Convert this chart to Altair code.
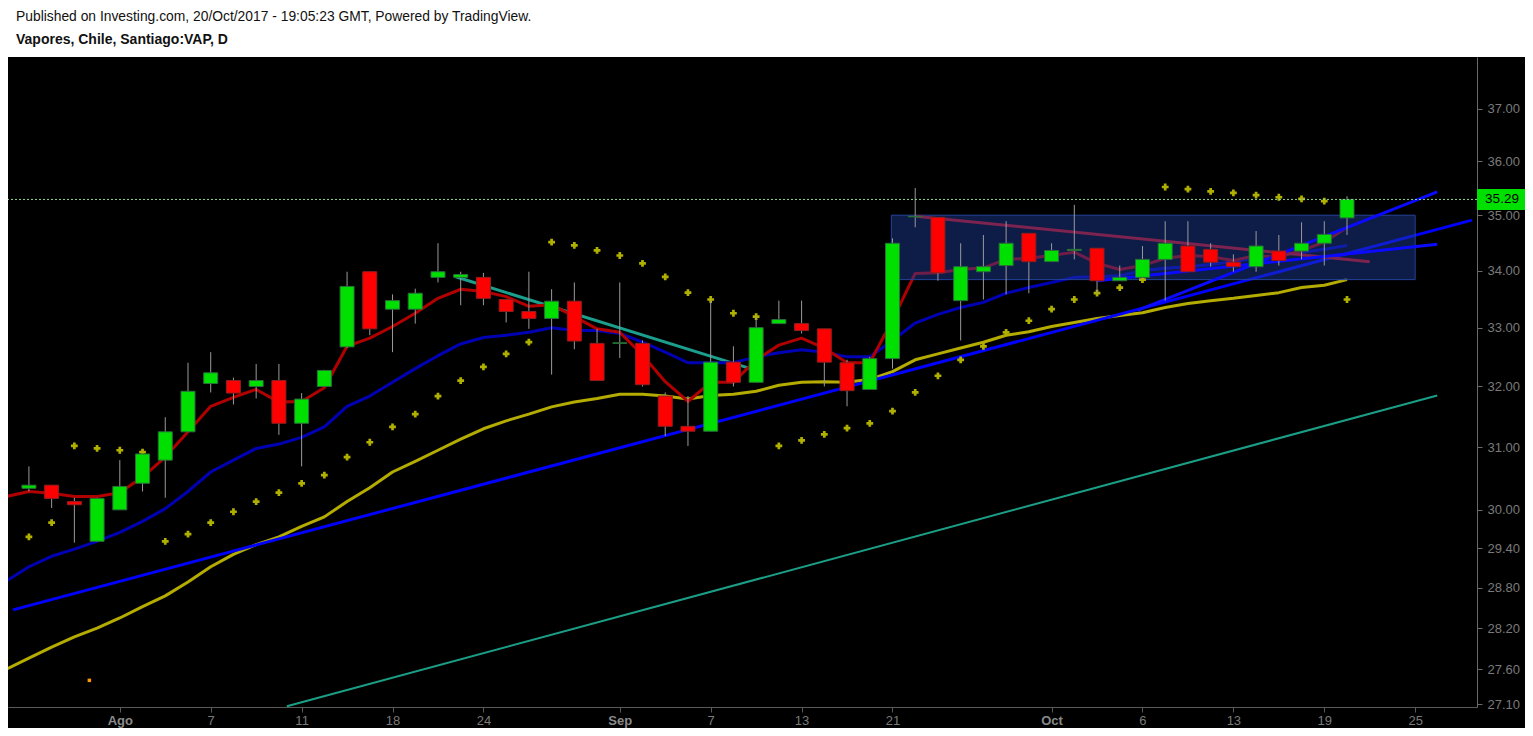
import altair as alt
import pandas as pd

# ---------------- data ----------------
bars = list(range(1, 60))
opens = [30.34, 30.39, 30.13, 29.51, 30.00, 30.42, 30.79, 31.25, 32.05, 32.10,
         32.00, 32.10, 31.39, 32.00, 32.67, 33.98, 33.32, 33.32, 33.88, 33.88,
         33.88, 33.49, 33.28, 33.16, 33.46, 32.73, 32.73, 32.73, 31.84, 31.34,
         31.26, 32.41, 32.07, 33.07, 33.07, 32.98, 32.40, 31.95, 32.47, 34.97,
         34.96, 33.47, 33.98, 34.09, 34.67, 34.16, 34.36, 34.40, 33.82, 33.88,
         34.20, 34.44, 34.38, 34.15, 34.07, 34.35, 34.35, 34.49, 34.95]
highs = [30.69, 30.39, 30.19, 30.19, 30.79, 30.89, 31.49, 32.40, 32.58, 32.15,
         32.38, 32.38, 31.89, 32.28, 33.98, 33.98, 33.58, 33.68, 34.49, 33.98,
         33.96, 33.49, 33.98, 33.67, 33.79, 32.98, 33.79, 32.78, 31.90, 31.84,
         33.47, 32.68, 33.19, 33.47, 33.47, 32.98, 32.45, 32.50, 34.58, 35.50,
         34.96, 34.49, 34.64, 34.89, 34.67, 34.49, 35.19, 34.40, 34.09, 34.44,
         34.89, 34.89, 34.49, 34.29, 34.71, 34.64, 34.87, 34.89, 35.35]
lows = [30.29, 30.03, 29.49, 29.51, 30.00, 30.29, 30.19, 31.25, 31.90, 31.70,
        31.80, 31.20, 30.69, 32.00, 32.65, 32.87, 32.58, 33.07, 33.79, 33.39,
        33.39, 33.09, 32.98, 32.20, 32.63, 32.10, 32.48, 32.00, 31.18, 31.02,
        31.26, 32.00, 32.07, 33.07, 32.90, 32.00, 31.67, 31.95, 32.30, 34.78,
        33.82, 32.78, 33.49, 33.58, 33.60, 34.16, 34.20, 33.60, 33.82, 33.85,
        33.47, 33.98, 34.07, 33.98, 33.98, 34.09, 34.20, 34.09, 34.64]
closes = [30.39, 30.18, 30.08, 30.18, 30.37, 30.89, 31.25, 31.92, 32.23, 31.89,
          32.10, 31.39, 31.79, 32.27, 33.72, 32.98, 33.47, 33.60, 33.98, 33.93,
          33.51, 33.28, 33.16, 33.46, 32.77, 32.10, 32.74, 32.03, 31.34, 31.26,
          32.41, 32.07, 33.00, 33.14, 32.95, 32.41, 31.93, 32.47, 34.49, 34.98,
          33.96, 34.07, 34.07, 34.49, 34.16, 34.36, 34.38, 33.82, 33.88, 34.20,
          34.49, 33.98, 34.15, 34.07, 34.44, 34.18, 34.49, 34.65, 35.29]

sar = [29.58, 29.80, 31.02, 30.98, 30.95, 30.92, 29.51, 29.62, 29.80, 29.97,
       30.13, 30.27, 30.42, 30.55, 30.84, 31.08, 31.33, 31.54, 31.84, 32.10,
       32.33, 32.55, 32.75, 34.51, 34.45, 34.36, 34.27, 34.13, 33.89, 33.61,
       33.49, 33.25, 33.19, 31.02, 31.11, 31.21, 31.31, 31.39, 31.59, 31.90,
       32.18, 32.45, 32.68, 32.92, 33.12, 33.32, 33.49, 33.60, 33.70, 33.84,
       35.52, 35.48, 35.44, 35.41, 35.37, 35.33, 35.30, 35.26, 33.49]

ma_bars = list(range(0, 60))
ma_fast = [30.21, 30.29, 30.26, 30.21, 30.21, 30.27, 30.52, 30.84, 31.25, 31.67,
           31.82, 31.95, 31.74, 31.75, 31.98, 32.68, 32.82, 33.02, 33.25, 33.51,
           33.67, 33.63, 33.54, 33.37, 33.40, 33.19, 32.98, 32.92, 32.53, 32.08,
           31.75, 32.07, 32.07, 32.45, 32.70, 32.82, 32.65, 32.40, 32.40, 33.13,
           33.95, 33.96, 34.02, 34.05, 34.20, 34.22, 34.27, 34.33, 34.13, 34.02,
           34.09, 34.22, 34.27, 34.25, 34.18, 34.27, 34.24, 34.36, 34.51, 34.78]
ma_mid = [28.90, 29.12, 29.28, 29.39, 29.51, 29.65, 29.82, 30.02, 30.29, 30.60,
          30.79, 30.98, 31.05, 31.16, 31.33, 31.67, 31.84, 32.07, 32.30, 32.52,
          32.72, 32.83, 32.87, 32.92, 33.00, 32.95, 32.95, 32.90, 32.75, 32.58,
          32.40, 32.40, 32.40, 32.50, 32.57, 32.62, 32.58, 32.50, 32.50, 32.78,
          33.08, 33.23, 33.35, 33.44, 33.60, 33.70, 33.79, 33.88, 33.89, 33.91,
          34.00, 34.04, 34.07, 34.11, 34.16, 34.22, 34.27, 34.33, 34.38, 34.45]
ma_slow = [27.60, 27.76, 27.92, 28.07, 28.20, 28.35, 28.52, 28.68, 28.89, 29.12,
           29.31, 29.46, 29.58, 29.74, 29.89, 30.13, 30.35, 30.60, 30.77, 30.95,
           31.13, 31.30, 31.43, 31.54, 31.66, 31.74, 31.80, 31.87, 31.87, 31.84,
           31.79, 31.85, 31.87, 31.92, 32.02, 32.07, 32.08, 32.07, 32.12, 32.25,
           32.45, 32.55, 32.65, 32.75, 32.87, 32.93, 33.02, 33.09, 33.16, 33.21,
           33.26, 33.35, 33.42, 33.47, 33.51, 33.56, 33.61, 33.70, 33.74, 33.84]

# drawn trend lines: (bar, price) end points
trend_long_blue = ([0.3, 64.5], [28.47, 34.91])
trend_flat_blue = ([48.03, 62.97], [33.82, 34.47])
trend_steep_blue = ([49.78, 62.97], [33.30, 35.43])
trend_teal_long = ([12.35, 62.97], [27.07, 31.85])
trend_teal_short = ([19.78, 32.75], [33.89, 32.30])
trend_maroon = ([40.0, 60.0], [34.98, 34.16])
box_bars = [38.95, 62.0]
box_prices = [33.84, 35.00]
orange_dot = ([3.66], [27.44])
last_price = 35.29

tick_pos = [5, 9, 13, 17, 21, 27, 31, 35, 39, 46, 50, 54, 58, 62]
tick_lab = ["Ago", "7", "11", "18", "24", "Sep", "7", "13", "21", "Oct", "6", "13", "19", "25"]
month_pos = [5, 27, 46]
y_ticks = [27.10, 27.60, 28.20, 28.80, 29.40, 30.00, 31.00, 32.00, 33.00, 34.00, 35.00, 36.00, 37.00]
header_lines = ["Published on Investing.com, 20/Oct/2017 - 19:05:23 GMT, Powered by TradingView.",
                "Vapores, Chile, Santiago:VAP, D"]

# ---------------- chart ----------------
W, H = 1469, 650
RIGHT_PAD = 48
FONT = "Liberation Sans"

pos_list = ",".join(str(p) for p in tick_pos)
lab_list = ",".join("'" + s + "'" for s in tick_lab)
label_expr = f"indexof([{pos_list}], datum.value) >= 0 ? [{lab_list}][indexof([{pos_list}], datum.value)] : ''"
month_test = "indexof([" + ",".join(str(p) for p in month_pos) + "], datum.value) >= 0"

xscale = alt.Scale(domain=[0.3, 64.5], nice=False, zero=False)
yscale = alt.Scale(type="log", domain=[27.06, 38.02], nice=False, zero=False)

xaxis = alt.Axis(values=tick_pos, labelExpr=label_expr, title=None, grid=False,
                 domainColor="#5a5a5a", tickColor="#5a5a5a", tickSize=5,
                 labelColor={"condition": {"test": month_test, "value": "#8a8a8a"}, "value": "#7a7a7a"},
                 labelFontWeight={"condition": {"test": month_test, "value": "bold"}, "value": "normal"},
                 labelFont=FONT, labelFontSize=13, labelPadding=2,
                 labelFlush=False, labelOverlap=False)
yaxis = alt.Axis(orient="right", values=y_ticks, format=".2f", title=None, grid=False,
                 domainColor="#6a6a6a", tickColor="#6a6a6a", tickSize=5,
                 labelColor="#7a7a7a", labelFont=FONT, labelFontSize=13, labelPadding=5,
                 labelFlush=False, labelOverlap=False)


def X(field):
    return alt.X(f"{field}:Q", scale=xscale, axis=xaxis)


def Y(field):
    return alt.Y(f"{field}:Q", scale=yscale, axis=yaxis)


def line_layer(xs, ys, color, width, clip=True):
    df = pd.DataFrame({"bar": xs, "price": ys})
    return alt.Chart(df).mark_line(color=color, strokeWidth=width, clip=clip,
                                   strokeJoin="round").encode(x=X("bar"), y=Y("price"))


candles = pd.DataFrame({"bar": bars, "open": opens, "high": highs, "low": lows, "close": closes})
candles["dir"] = ["up" if c >= o else "down" for o, c in zip(opens, closes)]

header_bg = alt.Chart(pd.DataFrame({"v": [0]})).mark_rect(color="white").encode(
    x=alt.value(0), x2=alt.value(W + RIGHT_PAD), y=alt.value(-49), y2=alt.value(0))
header_txt1 = alt.Chart(pd.DataFrame({"t": [header_lines[0]]})).mark_text(
    align="left", baseline="middle", font=FONT, fontSize=13.85, color="#111111").encode(
    x=alt.value(8), y=alt.value(-40), text="t:N")
header_txt2 = alt.Chart(pd.DataFrame({"t": [header_lines[1]]})).mark_text(
    align="left", baseline="middle", font=FONT, fontSize=14, fontWeight="bold", color="#111111").encode(
    x=alt.value(8), y=alt.value(-17), text="t:N")

ema_fast = line_layer(ma_bars, ma_fast, "#b00000", 3)
ema_mid = line_layer(ma_bars, ma_mid, "#0000b4", 3)
ema_slow = line_layer(ma_bars, ma_slow, "#b4ac00", 3)
teal_long = line_layer(*trend_teal_long, "#1b9e86", 2)
teal_short = line_layer(*trend_teal_short, "#1b9e8c", 3)
blue_long = line_layer(*trend_long_blue, "#0000ff", 3)

box = alt.Chart(pd.DataFrame({"b0": [box_bars[0]], "b1": [box_bars[1]],
                              "p0": [box_prices[0]], "p1": [box_prices[1]]})).mark_rect(
    fill="#1f3fa0", fillOpacity=0.45, stroke="#24439a", strokeWidth=1).encode(
    x=X("b0"), x2="b1:Q", y=Y("p0"), y2="p1:Q")

maroon = line_layer(*trend_maroon, "#7d2350", 3)
blue_flat = line_layer(*trend_flat_blue, "#0a0aff", 3)
blue_steep = line_layer(*trend_steep_blue, "#0a0aff", 3)

sar_layer = alt.Chart(pd.DataFrame({"bar": bars, "price": sar})).mark_point(
    shape="cross", filled=True, size=46, color="#b0b000", opacity=1).encode(x=X("bar"), y=Y("price"))

orange = alt.Chart(pd.DataFrame({"bar": orange_dot[0], "price": orange_dot[1]})).mark_square(
    size=12, color="#ff9900", opacity=1).encode(x=X("bar"), y=Y("price"))

wicks = alt.Chart(candles).mark_rule(color="#9a9a9a", strokeWidth=1).encode(
    x=X("bar"), y=Y("low"), y2="high:Q")
bodies = alt.Chart(candles).mark_bar(size=14, strokeWidth=1).encode(
    x=X("bar"), y=Y("open"), y2="close:Q",
    fill=alt.Fill("dir:N", scale=alt.Scale(domain=["up", "down"], range=["#00e000", "#ff0000"]), legend=None),
    stroke=alt.Stroke("dir:N", scale=alt.Scale(domain=["up", "down"], range=["#2a6e3a", "#8e1f1f"]), legend=None))

lp = pd.DataFrame({"price": [last_price], "txt": [f"{last_price:.2f}"]})
last_rule = alt.Chart(lp).mark_rule(color="#8fd88f", strokeWidth=1, strokeDash=[2, 2]).encode(y=Y("price"))
last_box = alt.Chart(lp).mark_tick(orient="horizontal", size=50, thickness=21, color="#00e000", opacity=1).encode(
    x=alt.value(W + 25), y=Y("price"))
last_txt = alt.Chart(lp).mark_text(font=FONT, fontSize=13.5, color="#000000", align="center", baseline="middle").encode(
    x=alt.value(W + 25), y=Y("price"), text="txt:N")

chart = alt.layer(
    header_bg, header_txt1, header_txt2,
    teal_long, teal_short, ema_slow, ema_mid, ema_fast, blue_long,
    box, maroon, blue_flat, blue_steep,
    sar_layer, orange, wicks, bodies,
    last_rule, last_box, last_txt,
).properties(
    width=W, height=H, background="#000000",
    padding={"left": 0, "top": 49, "right": RIGHT_PAD, "bottom": 21},
    autosize=alt.AutoSizeParams(type="none"),
).configure_view(stroke=None, fill="#000000")

chart.save("out.html", embed_options={"renderer": "svg", "actions": False})
